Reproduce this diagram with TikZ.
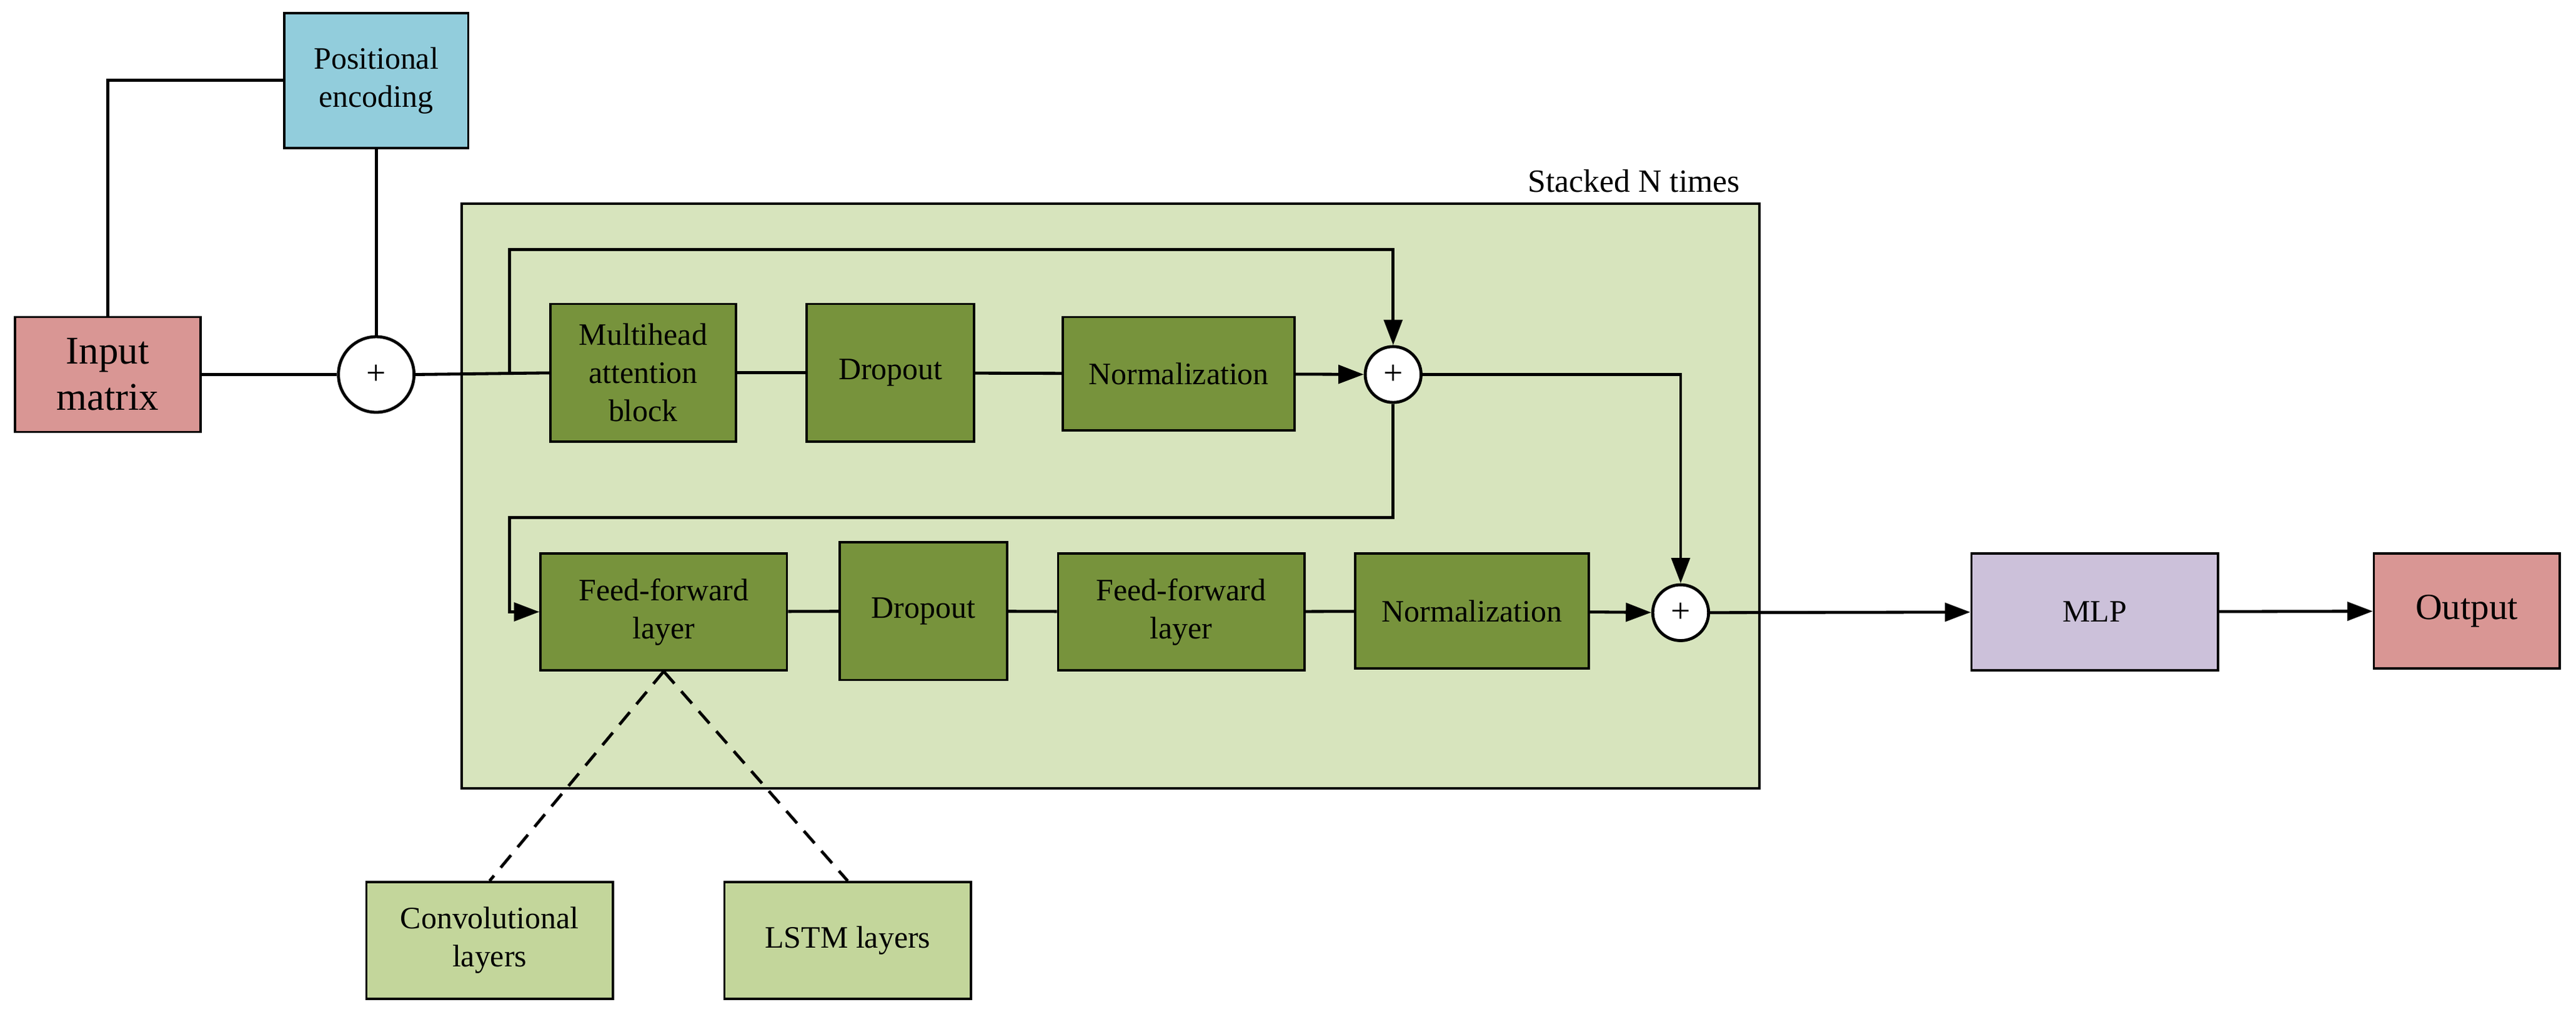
\documentclass[tikz,border=0pt]{standalone}
\usepackage{fontspec}
\setmainfont{Liberation Serif}
\usetikzlibrary{arrows.meta}
\definecolor{dg}{HTML}{77933C}
\definecolor{bg}{HTML}{D7E4BD}
\definecolor{lg}{HTML}{C3D69B}
\definecolor{pe}{HTML}{92CDDC}
\definecolor{rd}{HTML}{D99694}
\definecolor{pu}{HTML}{CCC1DA}
\begin{document}
\begin{tikzpicture}[x=0.05cm,y=-0.05cm,line width=2.6pt,
 bx/.style={draw,line width=2pt,align=center,inner sep=0pt,font=\fontsize{27}{33}\selectfont},
 pl/.style={draw,circle,fill=white,line width=2.6pt,inner sep=0pt,font=\fontsize{30}{30}\selectfont},
 ar/.style={-{Triangle[length=22pt,width=16pt]}}]
\useasboundingbox (0,0) rectangle (1568,616);
\fill[white] (0,0) rectangle (1568,616);
\node[bx,fill=bg,minimum width=790*0.05cm,minimum height=356*0.05cm] (stack) at (676,302) {};
\node[anchor=south east,inner sep=0pt,font=\fontsize{28}{30}\selectfont] (lab) at (1060,118) {Stacked N times};
\node[bx,fill=pe,minimum width=112*0.05cm,minimum height=82*0.05cm] (pe) at (229,49) {Positional\\encoding};
\node[bx,fill=rd,minimum width=113*0.05cm,minimum height=70*0.05cm,font=\fontsize{34}{40}\selectfont] (in) at (65.5,228) {Input\\matrix};
\node[pl,minimum size=46*0.05cm] (p1) at (229,228) {+};
\node[bx,fill=dg,minimum width=113*0.05cm,minimum height=84*0.05cm] (mh) at (391.5,227) {Multihead\\attention\\block};
\node[bx,fill=dg,minimum width=102*0.05cm,minimum height=84*0.05cm] (d1) at (542,227) {Dropout};
\node[bx,fill=dg,minimum width=141*0.05cm,minimum height=69*0.05cm] (n1) at (717.5,227.5) {Normalization};
\node[pl,minimum size=34*0.05cm] (p2) at (848,228) {+};
\node[bx,fill=dg,minimum width=150*0.05cm,minimum height=71*0.05cm] (f1) at (404,372.5) {Feed-forward\\layer};
\node[bx,fill=dg,minimum width=102*0.05cm,minimum height=84*0.05cm] (d2) at (562,372) {Dropout};
\node[bx,fill=dg,minimum width=150*0.05cm,minimum height=71*0.05cm] (f2) at (719,372.5) {Feed-forward\\layer};
\node[bx,fill=dg,minimum width=142*0.05cm,minimum height=70*0.05cm] (n2) at (896,372) {Normalization};
\node[pl,minimum size=34*0.05cm] (p3) at (1023,373) {+};
\node[bx,fill=pu,minimum width=150*0.05cm,minimum height=71*0.05cm] (mlp) at (1275,372.5) {MLP};
\node[bx,fill=rd,minimum width=113*0.05cm,minimum height=70*0.05cm,font=\fontsize{32}{38}\selectfont] (out) at (1501.5,372) {Output};
\node[bx,fill=lg,minimum width=150*0.05cm,minimum height=71*0.05cm] (cv) at (298,572.5) {Convolutional\\layers};
\node[bx,fill=lg,minimum width=150*0.05cm,minimum height=71*0.05cm] (ls) at (516,572.5) {LSTM layers};
\coordinate (s1) at (310,228);
\draw (in.north) |- (pe.west);
\draw (pe.south) -- (p1.north);
\draw (in.east) -- (p1.west);
\draw (p1.east) -- (mh.west);
\draw[ar] (s1) -- (310,152) -| (p2.north);
\draw (mh) -- (d1); \draw (d1) -- (n1);
\draw[ar] (n1) -- (p2);
\draw[ar] (p2.east) -| (p3.north);
\draw[ar] (p2.south) -- (848,315) -- (310,315) |- (f1.west);
\draw (f1) -- (d2); \draw (d2) -- (f2); \draw (f2) -- (n2);
\draw[ar] (n2) -- (p3);
\draw[ar] (p3) -- (mlp);
\draw[ar] (mlp) -- (out);
\draw[dashed,dash pattern=on 14pt off 9pt] (f1.south) -- (cv.north);
\draw[dashed,dash pattern=on 14pt off 9pt] (f1.south) -- (ls.north);
\end{tikzpicture}
\end{document}
